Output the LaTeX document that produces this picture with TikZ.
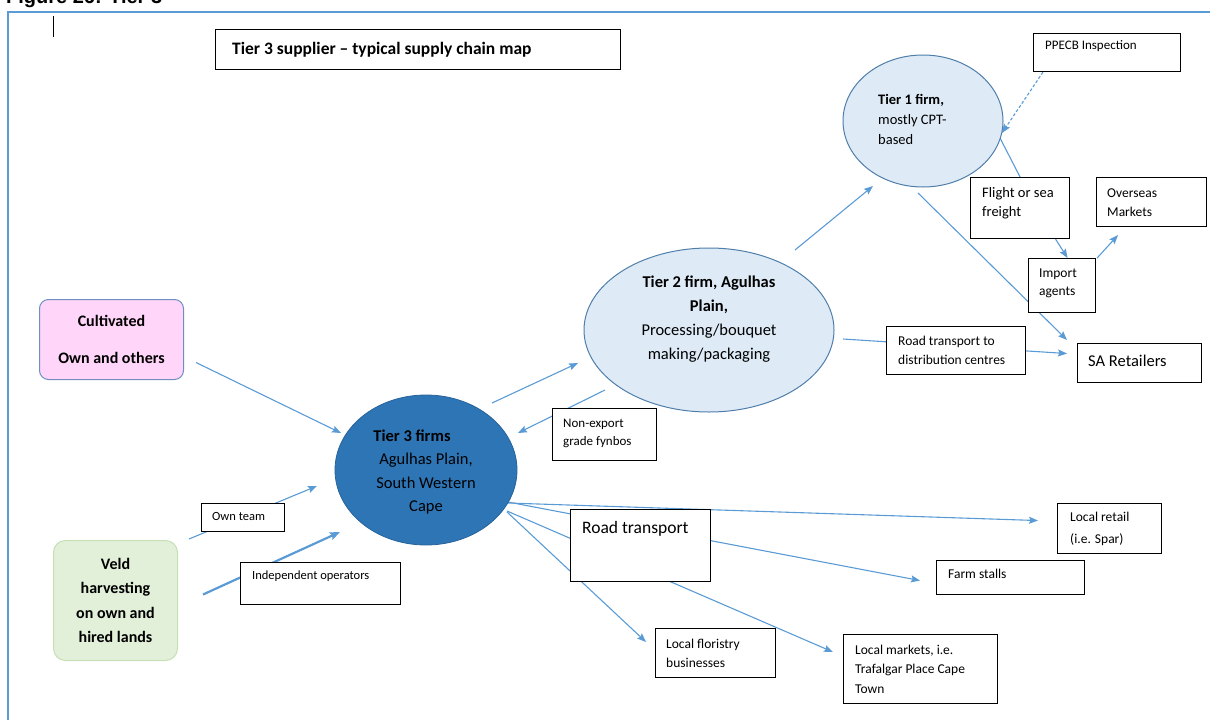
\documentclass[tikz,border=0pt]{standalone}
\usepackage{fontspec}
\setmainfont{Carlito}
\newfontfamily\headfont{Liberation Sans}
\usetikzlibrary{arrows.meta,calc,shapes.geometric,backgrounds}

\definecolor{ablue}{RGB}{91,155,213}
\definecolor{t3blue}{RGB}{46,117,182}
\definecolor{lblue}{RGB}{222,235,247}
\definecolor{eborder}{RGB}{80,126,170}
\definecolor{pinkf}{RGB}{255,214,250}
\definecolor{pinkb}{RGB}{112,142,192}
\definecolor{greenf}{RGB}{226,240,217}
\definecolor{greenb}{RGB}{197,224,180}

\tikzset{
  conn/.style={draw=ablue, line width=1.1pt, -{Stealth[length=9pt,width=7pt,inset=1.5pt]}},
  plainline/.style={draw=ablue, line width=1.1pt},
  boxst/.style={draw=black, fill=white, line width=1.1pt, rectangle, inner sep=0pt, anchor=north west},
  lbl/.style={anchor=west, inner sep=0pt, align=left, text=black},
  ell/.style={ellipse, inner sep=0pt},
}

\begin{document}
\begin{tikzpicture}[x=1pt,y=-1pt]
\useasboundingbox (0,0) rectangle (1210,720);
\begin{scope}
  \clip (0,0) rectangle (1210,720);
  \node[anchor=base west, inner sep=0pt, font=\headfont\bfseries\fontsize{20}{20}\selectfont] (fig) at (6,4) {Figure 26: Tier 3};
\end{scope}

% frame and cursor
\draw[ablue, line width=1.2pt] (1210,12) -- (8,12) -- (8,720);
\draw[black, line width=1pt] (53,16) -- (53,37);

% title
\node[boxst, minimum width=405, minimum height=40] (title) at (215,29) {};
\node[lbl, font=\bfseries\fontsize{17.5}{20}\selectfont] (titlet) at ($(title.west)+(17,0)$) {Tier 3 supplier – typical supply chain map};

% ellipses
\node[ell, fill=t3blue, draw=t3blue!85!black, line width=0.8pt, minimum width=182, minimum height=150] (t3) at (426,470) {};
\node[ell, fill=lblue, draw=eborder, line width=1pt, minimum width=250, minimum height=164] (t2) at (709,330) {};
\node[ell, fill=lblue, draw=eborder, line width=1pt, minimum width=160, minimum height=132] (t1) at (923,121) {};

\node[align=center, inner sep=0pt, font=\fontsize{16.5}{23.4}\selectfont] (t3t) at (426,472)
  {\textbf{Tier 3 firms}\hspace*{28pt}\\Agulhas Plain,\\South Western\\Cape};
\node[align=center, inner sep=0pt, font=\fontsize{16.5}{24}\selectfont] (t2t) at (709,319)
  {\textbf{Tier 2 firm, Agulhas}\\\textbf{Plain,}\\Processing/bouquet\\making/packaging};
\node[anchor=north west, align=left, inner sep=0pt, font=\fontsize{14.5}{20}\selectfont] (t1t) at (878,94)
  {\textbf{Tier 1 firm,}\\mostly CPT-\\based};

% source boxes
\node[draw=pinkb, fill=pinkf, rounded corners=9pt, line width=1pt, minimum width=144, minimum height=80, anchor=north west] (cult) at (39,299) {};
\node[align=center, inner sep=0pt, font=\bfseries\fontsize{16}{37}\selectfont] (cultt) at (cult.center) {Cultivated\\Own and others};
\node[draw=greenb, fill=greenf, rounded corners=12pt, line width=1pt, minimum width=124, minimum height=120, anchor=north west] (veld) at (53,540) {};
\node[align=center, inner sep=0pt, font=\bfseries\fontsize{16}{24.3}\selectfont] (veldt) at (veld.center) {Veld\\harvesting\\on own and\\hired lands};

% boxes
\node[boxst, minimum width=99, minimum height=61] (flight) at (970,177) {};
\node[boxst, minimum width=110, minimum height=49] (ov) at (1096,177) {};
\node[boxst, minimum width=147, minimum height=38] (pp) at (1033,33) {};
\node[boxst, minimum width=124, minimum height=39] (sar) at (1077,343) {};
\node[boxst, minimum width=104, minimum height=50] (lr) at (1057,503) {};
\node[boxst, minimum width=148, minimum height=34] (fs) at (936,560) {};
\node[boxst, minimum width=120, minimum height=49] (lf) at (655,628) {};
\node[boxst, minimum width=154, minimum height=69] (lm) at (843,634) {};
\node[boxst, minimum width=83, minimum height=28] (own) at (201,503) {};
\node[boxst, minimum width=160, minimum height=42] (ind) at (240,562) {};
\node[boxst, minimum width=104, minimum height=52] (nex) at (552,408) {};
\node[boxst, minimum width=139, minimum height=48] (rtdc) at (886,326) {};
\node[boxst, minimum width=140, minimum height=72] (rt) at (570,509) {};
\node[boxst, minimum width=67, minimum height=54] (imp) at (1028,258) {};

% connectors (behind boxes)
\begin{pgfonlayer}{background}
\draw[conn] ($(cult.east)+(12,23)$) -- ($(t3.center)+(-85,-37)$);
\draw[conn] ($(veld.north east)+(11,-1)$) -- ($(t3.center)+(-109,16)$);
\draw[conn, line width=2.2pt, -{Stealth[length=10pt,width=8pt,inset=1.5pt]}] ($(veld.east)+(25,-6)$) -- ($(t3.center)+(-86,62)$);
\draw[conn] ($(t3.center)+(66,-67)$) -- ($(t2.center)+(-131,33)$);
\draw[conn] ($(t2.center)+(-104,60)$) -- ($(t3.center)+(92,-37)$);
\draw[conn] ($(t2.center)+(86,-80)$) -- ($(t1.center)+(-50,65)$);
\draw[conn] ($(t2.center)+(134,9)$) -- ($(sar.west)+(-10,-9.5)$);
\draw[conn] ($(t1.center)+(-5,72)$) -- ($(sar.north west)+(-10,-3)$);
\draw[plainline] ($(t1.center)+(77,17)$) -- (flight.north);
\draw[conn] ($(flight.south)+(35.5,0)$) -- ($(imp.north)+(5.5,0)$);
\draw[conn] ($(imp.north east)+(1,0)$) -- ($(ov.south west)+(22,8)$);
\draw[conn, dash pattern=on 3pt off 2pt] ($(pp.south west)+(10,0)$) -- ($(t1.center)+(79,12)$);
\draw[conn] ($(t3.center)+(82,33)$) -- ($(lr.west)+(-19,-8)$);
\draw[conn] ($(t3.center)+(82,32)$) -- ($(fs.west)+(-16,3)$);
\draw[conn] ($(t3.center)+(81,41)$) -- ($(lm.north west)+(-10,18)$);
\draw[conn] ($(t3.center)+(81,42)$) -- ($(lf.north west)+(-9,14)$);
\end{pgfonlayer}

% texts
\node[lbl, font=\fontsize{13}{18}\selectfont] (ppt) at ($(pp.north west)+(12,13)$) {PPECB Inspection};
\node[lbl, font=\fontsize{14.5}{19}\selectfont] (flightt) at ($(flight.north west)+(12,26.5)$) {Flight or sea\\freight};
\node[lbl, font=\fontsize{13.5}{19}\selectfont] (ovt) at ($(ov.north west)+(11,25.5)$) {Overseas\\Markets};
\node[lbl, font=\fontsize{13.5}{18}\selectfont] (impt) at ($(imp.north west)+(11,25)$) {Import\\agents};
\node[lbl, font=\fontsize{16.5}{20}\selectfont] (sart) at ($(sar.north west)+(11,18)$) {SA Retailers};
\node[lbl, font=\fontsize{13.5}{19}\selectfont] (rtdct) at ($(rtdc.north west)+(12,24.5)$) {Road transport to\\distribution centres};
\node[lbl, font=\fontsize{13}{18}\selectfont] (next) at ($(nex.north west)+(11,25)$) {Non-export\\grade fynbos};
\node[lbl, font=\fontsize{12.5}{18}\selectfont] (ownt) at ($(own.north west)+(11,13)$) {Own team};
\node[lbl, font=\fontsize{12.5}{18}\selectfont] (indt) at ($(ind.north west)+(12,14)$) {Independent operators};
\node[lbl, font=\fontsize{17.5}{20}\selectfont] (rtt) at ($(rt.north west)+(12,20)$) {Road transport};
\node[lbl, font=\fontsize{13.5}{22}\selectfont] (lrt) at ($(lr.north west)+(13,26)$) {Local retail\\(i.e. Spar)};
\node[lbl, font=\fontsize{13.5}{19}\selectfont] (fst) at ($(fs.north west)+(12,14)$) {Farm stalls};
\node[lbl, font=\fontsize{13.5}{19}\selectfont] (lft) at ($(lf.north west)+(11,25)$) {Local floristry\\businesses};
\node[lbl, font=\fontsize{13.5}{19.5}\selectfont] (lmt) at ($(lm.north west)+(12,35)$) {Local markets, i.e.\\Trafalgar Place Cape\\Town};
\end{tikzpicture}
\end{document}
